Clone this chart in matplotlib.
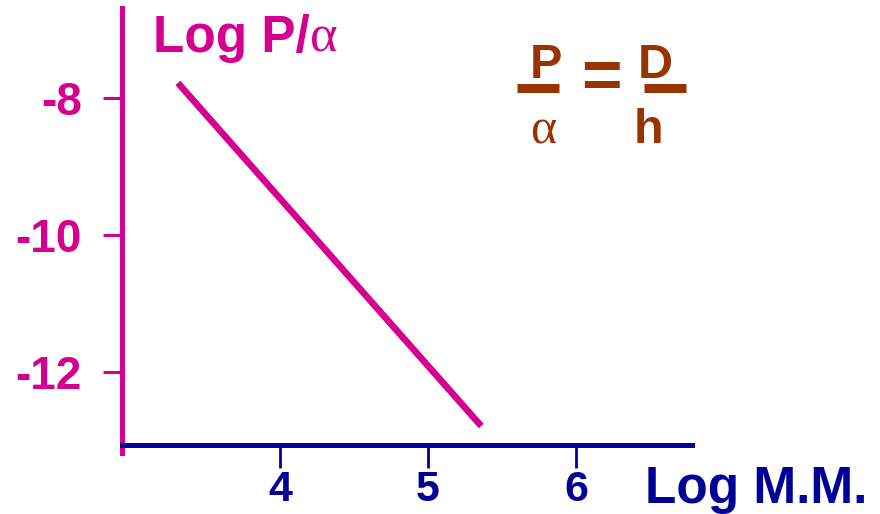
import matplotlib.pyplot as plt

# Permeability vs molecular mass (log-log)
log_mm = [3.31, 5.36]
log_p_alpha = [-7.78, -12.79]

x_ticks = [4, 5, 6]
y_ticks = [-8, -10, -12]
y_tick_labels = ['-8', '-10', '-12']

magenta = '#D4008F'
navy = '#000099'
brown = '#993300'

plt.rcParams['font.family'] = ['Liberation Sans', 'DejaVu Sans']

fig = plt.figure(figsize=(8.8, 5.14), dpi=100)
ax = fig.add_axes([0, 0, 1, 1])
ax.set_xlim(2.108, 8.054)
ax.set_ylim(-14.073, -6.569)

ax.plot(log_mm, log_p_alpha, color=magenta, lw=4.8, solid_capstyle='butt')

for s in ['top', 'right']:
    ax.spines[s].set_visible(False)
ax.spines['left'].set_position(('data', 2.932))
ax.spines['left'].set_bounds(-13.18, -6.686)
ax.spines['left'].set_color(magenta)
ax.spines['left'].set_linewidth(3.6)
ax.spines['bottom'].set_position(('data', -13.066))
ax.spines['bottom'].set_bounds(2.932, 6.784)
ax.spines['bottom'].set_color(navy)
ax.spines['bottom'].set_linewidth(3.6)
ax.spines['bottom'].set_zorder(3)

ax.set_xticks(x_ticks)
ax.set_yticks(y_ticks)
ax.set_yticklabels(y_tick_labels)
ax.tick_params(axis='y', direction='out', length=14, width=2.2, color=magenta,
               labelcolor=magenta, labelsize=33, pad=15)
ax.tick_params(axis='x', direction='out', length=16.5, width=2, color=navy,
               labelcolor=navy, labelsize=31, pad=1.5)
for lbl in ax.get_xticklabels() + ax.get_yticklabels():
    lbl.set_fontweight('bold')

title = ax.text(0.174, 0.899, 'Log P/', transform=ax.transAxes, color=magenta,
                fontsize=37, fontweight='bold', va='baseline', ha='left')
ax.text(0.733, 0.0214, 'Log M.M.', transform=ax.transAxes, color=navy,
        fontsize=37, fontweight='bold', va='baseline', ha='left')

# alpha follows the slash directly
fig.canvas.draw()
bb = title.get_window_extent()
x_alpha = ax.transAxes.inverted().transform((bb.x1, 0))[0]
ax.text(x_alpha, 0.899, 'α', transform=ax.transAxes, color=magenta,
        fontsize=38, family='Liberation Serif', va='baseline', ha='left')

# P/alpha = D/h
ax.text(546 / 880, 1 - 78 / 514, 'P', transform=ax.transAxes, color=brown,
        fontsize=35, fontweight='bold', ha='center', va='baseline')
ax.text(543 / 880, 1 - 143 / 514, 'α', transform=ax.transAxes, color=brown,
        fontsize=36, family='Liberation Serif', ha='center', va='baseline')
ax.text(655 / 880, 1 - 78 / 514, 'D', transform=ax.transAxes, color=brown,
        fontsize=35, fontweight='bold', ha='center', va='baseline')
ax.text(648 / 880, 1 - 143 / 514, 'h', transform=ax.transAxes, color=brown,
        fontsize=35, fontweight='bold', ha='center', va='baseline')
ax.text(601 / 880, 1 - 80 / 514, '=', transform=ax.transAxes, color=brown,
        fontsize=50, fontweight='bold', ha='center', va='center')
ax.plot([517 / 880, 559 / 880], [1 - 87.5 / 514] * 2, transform=ax.transAxes,
        color=brown, lw=6.5, solid_capstyle='butt')
ax.plot([644 / 880, 686 / 880], [1 - 87.5 / 514] * 2, transform=ax.transAxes,
        color=brown, lw=6.5, solid_capstyle='butt')

fig.savefig('out.png', dpi=100)
